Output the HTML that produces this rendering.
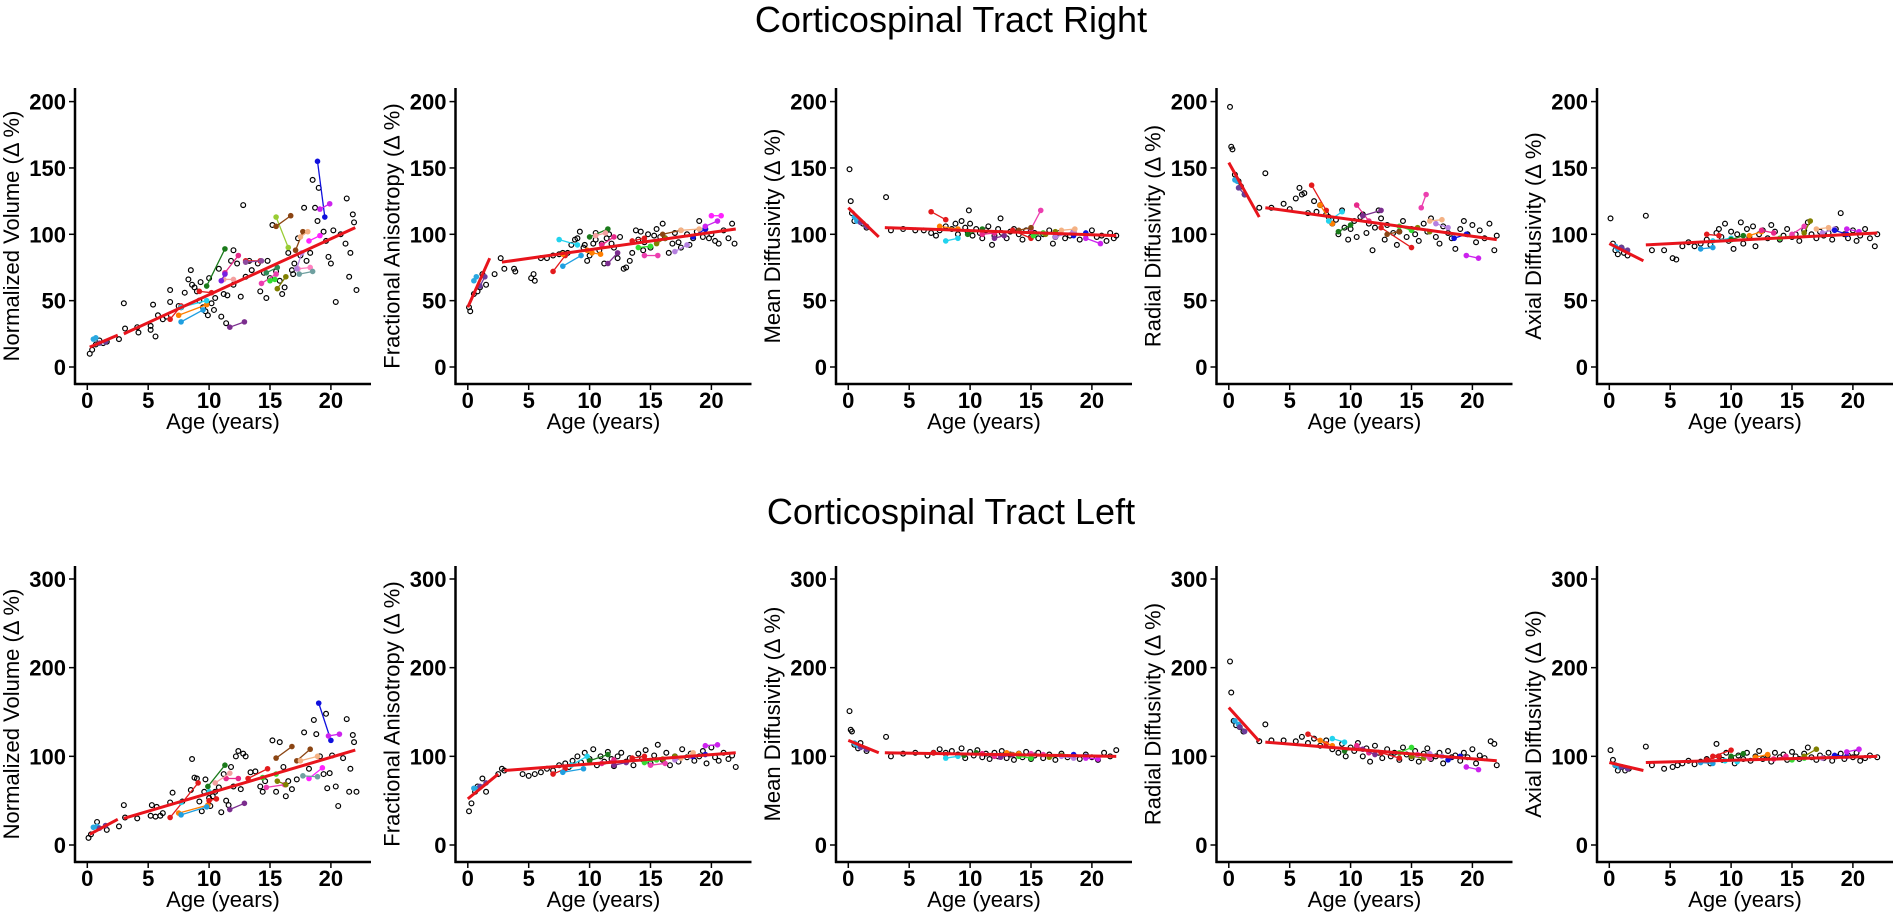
<!DOCTYPE html>
<html><head><meta charset="utf-8"><style>
body{margin:0;background:#fff;width:1902px;height:921px;overflow:hidden}
svg{display:block}
text{font-family:"Liberation Sans",Arial,sans-serif;fill:#000}
</style></head><body>
<svg id="fig" width="1902" height="921" viewBox="0 0 1902 921">
<text x="951" y="32" font-size="36" text-anchor="middle">Corticospinal Tract Right</text>
<text x="951" y="524" font-size="36" text-anchor="middle">Corticospinal Tract Left</text>
</svg>
<script>
const yLabels = ["Normalized Volume (Δ %)","Fractional Anisotropy (Δ %)","Mean Diffusivity (Δ %)","Radial Diffusivity (Δ %)","Axial Diffusivity (Δ %)"];
const xTicks = [0,5,10,15,20];
const yTicksTop = [0,50,100,150,200];
const yTicksBottom = [0,100,200,300];
const xLabel = "Age (years)";

const ptsR_NV=[[0.2,10],[0.4,13],[0.7,17],[1,20],[1.3,18],[1.6,19],[2.6,21],[3,48],[3.1,29],[4.1,30],[4.2,26],[5.2,31],[5.2,28],[5.4,47],[5.6,23],[5.8,39],[6.2,36],[6.5,38],[6.8,49],[6.8,58],[7.5,46],[8,56],[8.3,66],[8.5,73],[8.6,62],[8.8,60],[9,57],[9.2,50],[9.5,45],[9.7,42],[9.9,39],[10,67],[10.2,48],[10.4,43],[10.5,52],[10.8,74],[11,38],[11.2,55],[11.4,33],[11.5,54],[11.8,80],[12,88],[12.3,78],[12.8,122],[12.6,53],[13,68],[13.5,73],[14,78],[14.2,57],[14.5,71],[14.7,52],[15,67],[15.2,107],[15.5,72],[15.8,65],[16,55],[16.2,60],[16.5,86],[16.8,73],[17,78],[17.3,97],[17.5,84],[17.8,120],[18,80],[18.3,86],[18.5,141],[18.7,120],[18.9,110],[19,135],[19.4,102],[19.6,95],[19.8,83],[20,78],[20.2,103],[20.4,49],[20.8,100],[21.2,93],[21.3,127],[21.5,68],[21.6,86],[21.8,115],[21.9,109],[22.1,58],[9.3,64],[7.7,45],[12,62],[13.3,80],[16.9,70],[14.8,80]];
const prR_NV=[[0.5,21,0.7,22,'#29a8e0'],[1,18,1.5,19,'#6a3d9a'],[6.8,36,7.7,46,'#e31a1c'],[7.5,39,9.8,47,'#ff7f00'],[7.7,34,9.5,43,'#1f9fe0'],[7.7,45,9.8,50,'#22d3ee'],[9.8,61,11.3,89,'#1a7a1a'],[9.2,57,10.2,56,'#e31a1c'],[11.3,71,12.4,84,'#e7298a'],[11.7,30,12.9,34,'#7b2d8e'],[11.2,66,12,66,'#f4a0a0'],[11,65,11.3,70,'#7a1fe0'],[13,80,14.2,80,'#e31a1c'],[13,79,14.3,80,'#8e4b9e'],[14.3,63,15.5,70,'#ec3faf'],[14.7,71,15.6,75,'#2e8b57'],[15,65,15.4,66,'#33dd33'],[15.5,113,16.5,90,'#99cc33'],[15.5,106,16.7,114,'#8b4513'],[15.6,59,16.3,68,'#808000'],[17.1,88,17.7,102,'#8b4513'],[17.5,98,18.1,102,'#f4b183'],[17.3,74,18.3,75,'#ff80c0'],[17.4,70,18.5,72,'#6fa0a0'],[17.2,74,17.6,86,'#b580e0'],[18.2,95,19.1,99,'#ff22ff'],[18.9,155,19.5,113,'#1010dd'],[19.1,119,19.9,123,'#cc22ee']];
const fitR_NV=[[0.2,15,2.5,24],[3,25,22,105]];

const ptsR_FA=[[0.1,45],[0.2,42],[0.5,55],[0.8,57],[1,60],[1.2,70],[1.5,62],[2.2,70],[2.7,82],[3,74],[3.8,74],[3.9,72],[5.2,67],[5.4,70],[5.5,65],[6,82],[6.5,82],[7,84],[7.5,85],[7.8,86],[8.2,86],[8.5,92],[8.8,96],[9,97],[9.2,102],[9.5,90],[9.6,92],[9.8,80],[10,84],[10.3,93],[10.5,96],[10.8,88],[11,93],[11.2,78],[11.4,97],[11.6,100],[11.8,93],[12,90],[12.3,82],[12.5,98],[12.8,74],[13,75],[13.3,80],[13.5,86],[13.8,103],[14,96],[14.2,102],[14.5,94],[14.8,100],[15,90],[15.3,99],[15.5,104],[15.8,98],[16,108],[16.2,97],[16.5,86],[16.8,93],[17,101],[17.3,94],[17.5,90],[18,100],[18.2,92],[18.5,97],[18.8,102],[19,110],[19.3,98],[19.5,104],[19.8,97],[20,100],[20.3,95],[20.6,93],[21,103],[21.4,97],[21.7,108],[21.9,93],[10.5,101],[14.4,88]];
const prR_FA=[[0.5,65,0.7,68,'#29a8e0'],[1,61,1.4,68,'#6a3d9a'],[7,72,8,84,'#e31a1c'],[7.8,85,9.8,88,'#ff7f00'],[7.8,76,9.3,84,'#1f9fe0'],[7.5,96,9,92,'#22d3ee'],[10,98,11.5,104,'#1a7a1a'],[10.2,86,10.9,85,'#ff7f00'],[10.5,99,11.3,101,'#f4a0a0'],[11,92,12,98,'#e7298a'],[11.5,78,12.3,86,'#7b2d8e'],[13.5,95,14.5,97,'#e31a1c'],[14,90,15,91,'#33dd33'],[14.5,84,15.6,84,'#ec3faf'],[15.5,93,16.2,97,'#808000'],[16,100,17.5,103,'#8b4513'],[17,87,18,92,'#b580e0'],[18.5,98,19.5,104,'#1010dd'],[19.5,106,20.5,110,'#cc22ee'],[20,114,20.8,114,'#ff22ff'],[17.5,103,19,104,'#f4b183']];
const fitR_FA=[[0,45,1.8,82],[2.8,79,22,104]];

const ptsR_MD=[[0.1,149],[0.2,125],[0.3,116],[0.5,110],[0.7,112],[1.2,108],[1.5,105],[3.1,128],[3.5,103],[4.5,104],[5.5,103],[6.2,103],[6.8,101],[7.5,103],[8,106],[8.5,104],[8.8,108],[9,100],[9.3,110],[9.6,105],[9.8,102],[10,108],[10.2,99],[10.5,104],[10.8,101],[11,97],[11.3,103],[11.5,106],[11.8,92],[12,99],[12.3,104],[12.6,101],[13,97],[13.3,102],[13.6,104],[14,100],[14.3,96],[14.6,103],[15,98],[15.3,101],[15.6,97],[16,100],[16.5,103],[17,98],[17.3,101],[17.8,97],[18.2,99],[18.5,102],[19,96],[19.5,100],[20,103],[20.4,98],[20.8,99],[21.2,95],[21.5,101],[21.8,97],[22,99],[9.9,118],[12.5,112],[7.2,99],[16.8,93]];
const prR_MD=[[0.5,113,0.7,110,'#29a8e0'],[1,109,1.5,106,'#6a3d9a'],[6.8,117,8,111,'#e31a1c'],[7.5,106,9,104,'#ff7f00'],[8,95,9,97,'#22d3ee'],[9.8,100,11,104,'#1a7a1a'],[11,100,12,101,'#e7298a'],[12,97,12.8,99,'#7b2d8e'],[13.5,103,15,97,'#e31a1c'],[15,104,15.8,118,'#ec3faf'],[15.2,99,16,101,'#33dd33'],[16.2,100,17,102,'#808000'],[17,98,18.5,102,'#b580e0'],[18.5,99,19.5,101,'#1010dd'],[19.5,97,20.7,93,'#cc22ee'],[14,103,15,105,'#8b4513'],[17.5,103,18.6,104,'#f4b183']];
const fitR_MD=[[0,120,2.5,98],[3,105,22,99]];

const ptsR_RD=[[0.1,196],[0.2,166],[0.3,164],[0.5,145],[0.8,140],[1,136],[1.3,130],[2.5,120],[3,146],[3.5,120],[4.5,123],[5,119],[5.5,127],[5.8,135],[6,130],[6.2,131],[6.5,116],[7,125],[7.2,117],[7.5,122],[8,115],[8.2,113],[8.5,108],[8.8,111],[9,100],[9.3,118],[9.5,105],[9.8,96],[10,104],[10.3,110],[10.5,98],[10.8,113],[11,115],[11.3,101],[11.5,108],[11.8,88],[12,105],[12.3,118],[12.5,112],[12.8,96],[13,107],[13.5,101],[13.8,92],[14,102],[14.3,110],[14.6,98],[15,104],[15.3,100],[15.6,95],[16,108],[16.3,102],[16.6,112],[17,98],[17.3,93],[17.6,106],[18,101],[18.3,97],[18.6,89],[19,104],[19.3,110],[19.6,100],[20,107],[20.3,94],[20.6,103],[21,97],[21.4,108],[21.8,88],[22,99]];
const prR_RD=[[0.5,141,0.7,140,'#29a8e0'],[0.8,135,1.3,130,'#6a3d9a'],[6.8,137,8,118,'#e31a1c'],[7.5,122,8.5,108,'#ff7f00'],[8.2,110,9.3,117,'#22d3ee'],[9,102,10,107,'#1a7a1a'],[10.5,122,11.5,110,'#e7298a'],[11,114,12.5,118,'#7b2d8e'],[12.5,105,15,90,'#e31a1c'],[14,106,15,103,'#33dd33'],[15.8,120,16.2,130,'#ec3faf'],[15.5,105,16.5,102,'#808000'],[17,108,18,105,'#b580e0'],[18.5,97,19.5,100,'#1010dd'],[19.5,84,20.5,82,'#cc22ee'],[16.5,110,17.5,111,'#f4b183'],[13,100,14,102,'#8b4513']];
const fitR_RD=[[0,154,2.5,113],[3,120,22,96]];

const ptsR_AD=[[0.1,112],[0.3,93],[0.5,88],[0.7,85],[1,90],[1.2,86],[1.5,84],[3,114],[3.5,88],[4.5,88],[5.2,82],[5.5,81],[6,91],[6.5,94],[7,91],[7.5,93],[8,96],[8.3,92],[8.8,101],[9,104],[9.2,98],[9.5,108],[9.8,95],[10,102],[10.2,89],[10.5,100],[10.8,109],[11,93],[11.3,104],[11.5,98],[11.8,106],[12,91],[12.3,100],[12.6,103],[13,97],[13.3,107],[13.6,102],[14,96],[14.3,99],[14.6,104],[15,98],[15.3,100],[15.6,95],[16,103],[16.3,109],[16.6,100],[17,97],[17.3,102],[17.6,99],[18,101],[18.3,96],[18.6,104],[19,116],[19.3,100],[19.6,97],[20,103],[20.3,95],[20.6,99],[21,104],[21.4,97],[21.8,91],[22,100]];
const prR_AD=[[0.5,91,0.7,89,'#29a8e0'],[1,90,1.5,88,'#6a3d9a'],[7.5,89,8.5,90,'#1f9fe0'],[8,100,9,99,'#e31a1c'],[8.5,95,10,97,'#22d3ee'],[10,96,11,99,'#1a7a1a'],[11.5,99,12.5,102,'#ff7f00'],[12.5,103,13.5,101,'#e7298a'],[14,97,15,99,'#33dd33'],[15,100,16,106,'#ec3faf'],[16,101,16.5,110,'#808000'],[17.5,101,18.5,104,'#b580e0'],[18.5,103,19.5,100,'#1010dd'],[19.5,104,20.5,102,'#cc22ee'],[17,104,18,105,'#f4b183']];
const fitR_AD=[[0,93,2.8,80],[3,92,22,101]];

const ptsL_NV=[[0.1,8],[0.3,12],[0.8,26],[1.6,17],[2.6,21],[3,45],[3.1,31],[4.1,30],[5.2,33],[5.3,45],[5.6,32],[5.7,43],[6,33],[6.2,36],[6.8,48],[7,59],[7.8,49],[8.5,62],[8.6,97],[8.8,76],[9,75],[9.2,49],[9.4,38],[9.6,60],[9.7,74],[10,53],[10.1,44],[10.3,55],[10.5,60],[10.8,65],[11,37],[11.2,80],[11.4,50],[11.6,45],[11.8,88],[12,66],[12.2,100],[12.4,106],[12.6,63],[12.8,103],[13,100],[13.4,82],[13.8,83],[14.2,66],[14.4,60],[14.6,72],[15.2,118],[15.5,60],[15.8,116],[16.1,88],[16.3,55],[16.5,72],[16.8,63],[17.2,74],[17.8,127],[18.2,86],[18.6,141],[18.8,125],[19.1,100],[19.4,80],[19.6,148],[19.7,64],[19.9,81],[20.1,101],[20.4,66],[20.6,44],[21,98],[21.3,142],[21.5,60],[21.6,86],[21.8,124],[21.9,116],[22.1,60]];
const prL_NV=[[0.5,20,0.8,21,'#29a8e0'],[1,19,1.5,22,'#6a3d9a'],[6.8,31,9.1,70,'#e31a1c'],[7.5,36,9.9,45,'#ff7f00'],[7.7,34,9.8,43,'#1f9fe0'],[7.7,48,10,60,'#22d3ee'],[9.9,66,11.3,90,'#1a7a1a'],[10,50,10.6,52,'#e31a1c'],[11.4,75,12.4,75,'#e7298a'],[11.7,40,12.9,47,'#7b2d8e'],[10.5,70,11.7,81,'#f4a0a0'],[13.2,75,14.8,86,'#e31a1c'],[14.4,76,15.5,80,'#33dd33'],[14.7,65,16.2,68,'#ec3faf'],[15.5,98,16.8,111,'#8b4513'],[15.6,72,16.3,68,'#808000'],[17.2,95,18.3,108,'#8b4513'],[17.5,95,18.9,100,'#f4b183'],[18.2,75,19.3,87,'#ff22ff'],[17.7,78,18.9,77,'#6fa0a0'],[19,160,20,118,'#1010dd'],[19.8,123,20.7,125,'#cc22ee']];
const fitL_NV=[[0.2,12,2.5,29],[3,30,22,107]];

const ptsL_FA=[[0.1,38],[0.3,47],[0.6,60],[0.8,66],[1.2,75],[1.5,60],[2.5,80],[2.8,86],[3,84],[4.5,80],[5,78],[5.5,80],[6,82],[6.5,86],[7,84],[7.5,90],[8,92],[8.3,88],[8.6,95],[9,100],[9.3,93],[9.6,104],[10,97],[10.3,108],[10.6,90],[10.9,100],[11.2,94],[11.5,105],[11.8,97],[12,89],[12.3,100],[12.6,104],[13,94],[13.3,98],[13.6,90],[14,103],[14.3,97],[14.6,107],[15,92],[15.3,101],[15.6,113],[16,96],[16.3,104],[16.6,90],[17,100],[17.3,94],[17.6,108],[18,99],[18.3,103],[18.6,95],[19,100],[19.3,106],[19.6,92],[20,110],[20.3,99],[20.6,95],[21,104],[21.4,97],[21.7,101],[22,88]];
const prL_FA=[[0.5,64,0.8,64,'#29a8e0'],[1,66,1.5,70,'#6a3d9a'],[7,80,8,86,'#e31a1c'],[7.8,82,9.5,86,'#1f9fe0'],[8.5,90,9.8,100,'#22d3ee'],[10,95,11.5,102,'#1a7a1a'],[11,92,12,96,'#e7298a'],[12,90,13,93,'#7b2d8e'],[13.5,98,14.5,100,'#e31a1c'],[14.5,93,15.5,96,'#33dd33'],[15,90,16.2,92,'#ec3faf'],[16,97,17,100,'#808000'],[17,96,18.3,100,'#b580e0'],[18.5,100,19.5,102,'#1010dd'],[19.5,112,20.5,113,'#cc22ee'],[17.5,98,18.5,104,'#f4b183']];
const fitL_FA=[[0,52,2.5,80],[3,84,22,104]];

const ptsL_MD=[[0.1,151],[0.2,130],[0.3,128],[0.5,113],[0.8,109],[1,115],[1.5,106],[3.1,122],[3.5,100],[4.5,103],[5.5,104],[6.5,101],[7,104],[7.5,108],[8,104],[8.5,106],[9,102],[9.3,109],[9.6,98],[10,105],[10.3,101],[10.6,107],[11,99],[11.3,103],[11.6,97],[12,104],[12.3,100],[12.6,106],[13,98],[13.3,102],[13.6,96],[14,103],[14.3,99],[14.6,105],[15,97],[15.3,101],[15.6,104],[16,98],[16.5,102],[17,96],[17.5,103],[18,99],[18.5,101],[19,97],[19.5,102],[20,99],[20.5,96],[21,104],[21.5,100],[22,107]];
const prL_MD=[[0.5,115,0.8,112,'#29a8e0'],[1,110,1.5,108,'#6a3d9a'],[7,104,8,102,'#e31a1c'],[8,98,9,100,'#22d3ee'],[9.5,101,10.5,104,'#1a7a1a'],[11,103,12,100,'#e7298a'],[12.5,99,13.5,102,'#7b2d8e'],[14,100,15,98,'#33dd33'],[15,103,16,102,'#ec3faf'],[16.5,99,17.5,101,'#808000'],[17.5,100,18.5,98,'#b580e0'],[18.5,102,19.5,100,'#1010dd'],[19.5,98,20.5,97,'#cc22ee'],[13,104,14,103,'#ff7f00']];
const fitL_MD=[[0,118,2.5,104],[3,104,22,100]];

const ptsL_RD=[[0.1,207],[0.2,172],[0.4,140],[0.6,135],[0.9,133],[1.2,128],[2.5,117],[3,136],[3.5,118],[4.5,118],[5.5,117],[6,122],[6.5,115],[7,120],[7.5,112],[8,118],[8.5,108],[9,104],[9.3,114],[9.6,100],[10,110],[10.3,106],[10.6,115],[11,100],[11.3,109],[11.6,94],[12,112],[12.3,104],[12.6,98],[13,108],[13.3,100],[13.6,104],[14,96],[14.3,110],[14.6,102],[15,98],[15.3,106],[15.6,94],[16,103],[16.3,109],[16.6,97],[17,100],[17.3,104],[17.6,92],[18,106],[18.3,99],[18.6,101],[19,95],[19.3,104],[19.6,99],[20,108],[20.3,92],[20.6,101],[21,98],[21.5,117],[21.8,114],[22,90]];
const prL_RD=[[0.5,140,0.8,136,'#29a8e0'],[0.9,133,1.3,128,'#6a3d9a'],[6.5,125,8,114,'#e31a1c'],[7.5,118,8.5,112,'#ff7f00'],[8.5,120,9.5,116,'#22d3ee'],[9.5,106,10.5,110,'#1a7a1a'],[10.5,112,11.5,104,'#e7298a'],[11,108,12,102,'#7b2d8e'],[12.5,104,14,98,'#e31a1c'],[14,104,15,110,'#33dd33'],[15,100,16,98,'#808000'],[16.5,103,17.5,100,'#b580e0'],[18,96,19,100,'#1010dd'],[19.5,88,20.5,85,'#cc22ee'],[15.5,102,16.5,98,'#ec3faf']];
const fitL_RD=[[0,155,2.5,117],[3,116,22,95]];

const ptsL_AD=[[0.1,107],[0.3,96],[0.5,90],[0.7,84],[1,88],[1.3,84],[1.6,86],[3,111],[3.5,90],[4.5,86],[5.2,88],[5.6,90],[6,92],[6.5,95],[7,91],[7.5,94],[8,97],[8.3,92],[8.8,114],[9,100],[9.3,96],[9.6,104],[10,98],[10.3,92],[10.6,101],[11,97],[11.3,104],[11.6,95],[12,100],[12.3,106],[12.6,97],[13,101],[13.3,94],[13.6,104],[14,99],[14.3,102],[14.6,96],[15,105],[15.3,100],[15.6,97],[16,103],[16.3,110],[16.6,99],[17,96],[17.3,101],[17.6,98],[18,104],[18.3,95],[18.6,100],[19,103],[19.3,97],[19.6,101],[20,99],[20.3,104],[20.6,95],[21,98],[21.4,101],[22,99]];
const prL_AD=[[0.5,90,0.8,88,'#29a8e0'],[1,88,1.5,86,'#6a3d9a'],[7.5,93,8.5,92,'#1f9fe0'],[8,96,9,100,'#e31a1c'],[8.5,100,10,107,'#e31a1c'],[9.5,95,10.5,94,'#22d3ee'],[10,100,11,103,'#1a7a1a'],[12,99,13,102,'#ff7f00'],[13.5,97,14.5,100,'#e7298a'],[15,96,16,98,'#33dd33'],[16,100,17,108,'#808000'],[17.5,98,18.5,101,'#b580e0'],[18.5,101,19.5,100,'#1010dd'],[19.5,105,20.5,108,'#cc22ee']];
const fitL_AD=[[0,93,2.8,84],[3,93,22,100]];

const NS="http://www.w3.org/2000/svg";
const svg=document.getElementById('fig');
function mk(tag,attrs,parent){const e=document.createElementNS(NS,tag);for(const k in attrs)e.setAttribute(k,attrs[k]);(parent||svg).appendChild(e);return e;}

const rows=[
 {zeroY:367,scale:1.327,top:88,bottom:384,ticks:yTicksTop,
  sets:[[ptsR_NV,prR_NV,fitR_NV],[ptsR_FA,prR_FA,fitR_FA],[ptsR_MD,prR_MD,fitR_MD],[ptsR_RD,prR_RD,fitR_RD],[ptsR_AD,prR_AD,fitR_AD]]},
 {zeroY:845,scale:0.8867,top:566,bottom:862,ticks:yTicksBottom,
  sets:[[ptsL_NV,prL_NV,fitL_NV],[ptsL_FA,prL_FA,fitL_FA],[ptsL_MD,prL_MD,fitL_MD],[ptsL_RD,prL_RD,fitL_RD],[ptsL_AD,prL_AD,fitL_AD]]}
];

rows.forEach((row,ri)=>{
 row.sets.forEach((set,pi)=>{
  const ax=75+380.5*pi;
  const xs=a=>ax+12.3+a*12.18;
  const ys=v=>row.zeroY-v*row.scale;
  const g=mk('g',{});
  
  
  const ya=mk('line',{x1:ax,y1:row.top,x2:ax,y2:row.bottom+1,stroke:'#000','stroke-width':2.5},g);
  
  
  const xa=mk('line',{x1:ax-1,y1:row.bottom,x2:ax+296,y2:row.bottom,stroke:'#000','stroke-width':2.5},g);
  
  
  row.ticks.forEach(t=>{
   const y=ys(t);
   mk('line',{x1:ax-6,y1:y,x2:ax,y2:y,stroke:'#000','stroke-width':1.5},g);
   const tx=mk('text',{x:ax-9,y:y+8,'font-size':22,'font-weight':'bold','text-anchor':'end'},g);
   tx.textContent=t;
   
   
  });
  xTicks.forEach(t=>{
   const x=xs(t);
   mk('line',{x1:x,y1:row.bottom,x2:x,y2:row.bottom+6,stroke:'#000','stroke-width':1.5},g);
   const tx=mk('text',{x:x,y:row.bottom+24,'font-size':22,'font-weight':'bold','text-anchor':'middle'},g);
   tx.textContent=t;
   
   
  });
  const xl=mk('text',{x:ax+148,y:row.bottom+45,'font-size':22,'text-anchor':'middle'},g);
  xl.textContent=xLabel;
  
  
  const cy=(row.top+row.bottom)/2;
  const yl=mk('text',{x:ax-56,y:cy,'font-size':22,'text-anchor':'middle',transform:`rotate(-90 ${ax-56} ${cy})`},g);
  yl.textContent=yLabels[pi];
  
  
  set[0].forEach(p=>{
   const c=mk('circle',{cx:xs(p[0]),cy:ys(p[1]),r:2.4,fill:'none',stroke:'#000','stroke-width':1.2},g);
   
   
  });
  set[1].forEach(p=>{
   const l=mk('line',{x1:xs(p[0]),y1:ys(p[1]),x2:xs(p[2]),y2:ys(p[3]),stroke:p[4],'stroke-width':1.3},g);
   
   
   mk('circle',{cx:xs(p[0]),cy:ys(p[1]),r:2.8,fill:p[4]},g);
   mk('circle',{cx:xs(p[2]),cy:ys(p[3]),r:2.8,fill:p[4]},g);
  });
  set[2].forEach(s=>{
   const l=mk('line',{x1:xs(s[0]),y1:ys(s[1]),x2:xs(s[2]),y2:ys(s[3]),stroke:'#e8141c','stroke-width':3},g);
   
   
  });
 });
});
</script>
</body></html>
